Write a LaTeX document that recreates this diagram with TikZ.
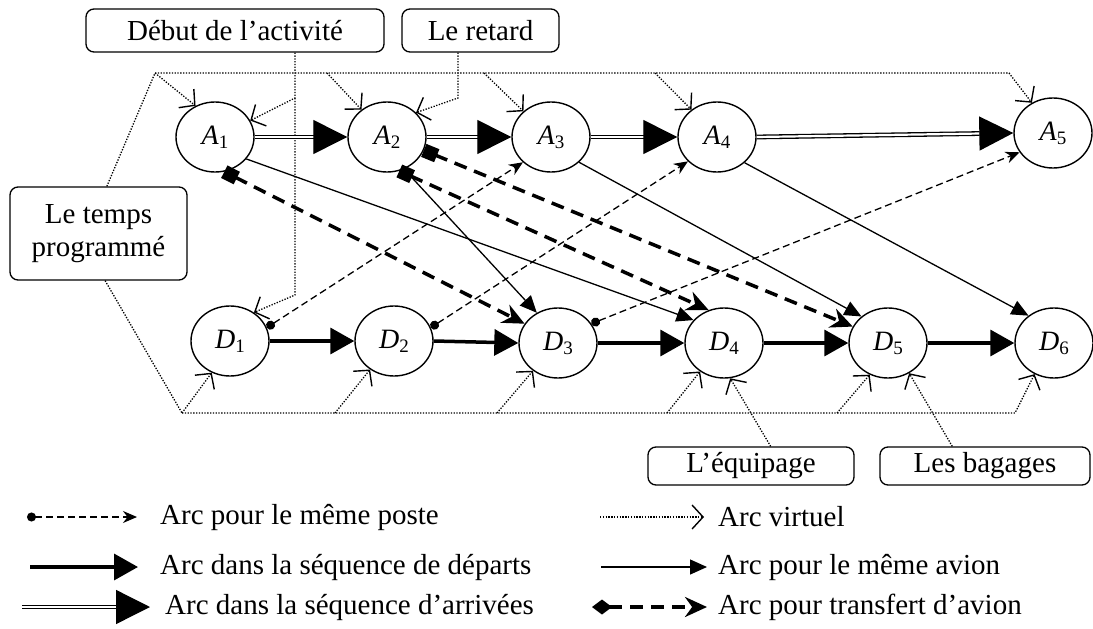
\documentclass[tikz,border=0pt]{standalone}
\usepackage{fontspec}
\setmainfont{Liberation Serif}
\usetikzlibrary{arrows.meta,shapes.geometric}
\newcommand\nlab[2]{\textit{#1}\raisebox{-4pt}{\fontsize{19}{19}\selectfont #2}}
\tikzset{
  ev/.style={ellipse, draw, line width=1.4pt, minimum width=78pt, minimum height=70pt, inner sep=0pt, font=\fontsize{28}{28}\selectfont},
  lab/.style={draw, rounded corners=8pt, line width=1.3pt, inner sep=0pt, font=\fontsize{29}{33}\selectfont, align=center},
  virt/.style={line width=1.3pt, dash pattern=on 1.3pt off 1.5pt},
  vtip/.style={-{Straight Barb[length=11pt,width=24pt,line width=1.4pt]}},
  dep/.style={line width=3.5pt, -{Triangle[length=24pt,width=26pt]}},
  arrv/.style={double, double distance=2.2pt, line width=1.3pt, -{Triangle[length=34pt,width=34pt]}},
  avion/.style={line width=1.3pt, -{Triangle[length=17pt,width=15pt]}},
  poste/.style={line width=1.3pt, dash pattern=on 7pt off 4pt, {Circle[length=9pt]}-{Stealth[length=14pt,width=12pt]}},
  transf/.style={line width=3.5pt, dash pattern=on 13pt off 8pt, {Square[length=14pt,width=14pt]}-{Stealth[length=22pt,width=20pt]}},
  transfleg/.style={line width=3.5pt, dash pattern=on 13pt off 8pt, {Kite[length=20pt,width=15pt,inset=10pt]}-{Stealth[length=22pt,width=20pt]}},
  txt/.style={anchor=west, inner sep=0pt, font=\fontsize{29}{33}\selectfont},
}
\begin{document}
\begin{tikzpicture}[x=1pt,y=-1pt]
\useasboundingbox (0,0) rectangle (1093,629);
% event nodes
\node[ev] (A1) at (215,137) {\nlab{A}{1}};
\node[ev] (A2) at (387,137) {\nlab{A}{2}};
\node[ev] (A3) at (551,137) {\nlab{A}{3}};
\node[ev] (A4) at (717,137) {\nlab{A}{4}};
\node[ev] (A5) at (1053,133) {\nlab{A}{5}};
\node[ev] (D1) at (230,341) {\nlab{D}{1}};
\node[ev] (D2) at (394,341) {\nlab{D}{2}};
\node[ev] (D3) at (558,343) {\nlab{D}{3}};
\node[ev] (D4) at (724,343) {\nlab{D}{4}};
\node[ev] (D5) at (888,343) {\nlab{D}{5}};
\node[ev] (D6) at (1054,343) {\nlab{D}{6}};
% label boxes
\node[lab, minimum width=298pt, minimum height=43pt] (Debut) at (235,30.5) {Début de l’activité};
\node[lab, minimum width=157pt, minimum height=43pt] (Retard) at (480.5,30.5) {Le retard};
\node[lab, minimum width=177pt, minimum height=93pt] (tp) at (98.5,233.5) {Le temps\\programmé};
\node[lab, minimum width=206pt, minimum height=38pt] (Eq) at (751,466) {L’équipage};
\node[lab, minimum width=210pt, minimum height=38pt] (Bag) at (985,466) {Les bagages};
% virtual frame
\coordinate (tl) at (155,73);
\coordinate (t2) at (327,73);
\coordinate (t3) at (484,73);
\coordinate (t4) at (655,73);
\coordinate (t5) at (1009,73);
\coordinate (bl) at (182,413);
\coordinate (b2) at (335,413);
\coordinate (b3) at (497,413);
\coordinate (b4) at (667,413);
\coordinate (b5) at (837,413);
\coordinate (b6) at (1015,413);
\coordinate (dj1) at (295,98);
\coordinate (dj2) at (295,295);
\coordinate (rj) at (458,98);
\draw[virt] (tp.80) -- (tl);
\draw[virt,vtip] (tl) -- (t5) -- (A5.125);
\draw[virt,vtip] (tl) -- (A1.122);
\draw[virt,vtip] (t2) -- (A2.133);
\draw[virt,vtip] (t3) -- (A3.137);
\draw[virt,vtip] (t4) -- (A4.133);
\draw[virt] (tp.-82) -- (bl);
\draw[virt,vtip] (bl) -- (b6) -- (D6.-122);
\draw[virt,vtip] (bl) -- (D1.-120);
\draw[virt,vtip] (b2) -- (D2.-130);
\draw[virt,vtip] (b3) -- (D3.-132);
\draw[virt,vtip] (b4) -- (D4.-130);
\draw[virt,vtip] (b5) -- (D5.-120);
\draw[virt,vtip] (Debut.south -| dj1) -- (dj1) -- (A1.25);
\draw[virt,vtip] (dj1) -- (dj2) -- (D1.50);
\draw[virt,vtip] (Retard.south -| rj) -- (rj) -- (A2.40);
\draw[virt,vtip] (Eq.45) -- (D4.-80);
\draw[virt,vtip] (Bag.149) -- (D5.-55);
% arrival sequence
\draw[arrv] (A1.east) -- (A2.west);
\draw[arrv] (A2.east) -- (A3.west);
\draw[arrv] (A3.east) -- (A4.west);
\draw[arrv] (A4.east) -- (A5.west);
% departure sequence
\draw[dep] (D1.east) -- (D2.west);
\draw[dep] (D2.east) -- (D3.west);
\draw[dep] (D3.east) -- (D4.west);
\draw[dep] (D4.east) -- (D5.west);
\draw[dep] (D5.east) -- (D6.west);
% same aircraft
\draw[avion] (A1.-35) -- (D4.143);
\draw[avion] (A2.-62) -- (D3.125);
\draw[avion] (A3.-42) -- (D5.135);
\draw[avion] (A4.-43) -- (D6.133);
% same gate
\draw[poste] (D1.20) -- (A3.-138);
\draw[poste] (D2.20) -- (A4.-140);
\draw[poste] (D3.30) -- (A5.-150);
% transfer
\draw[transf] (A1.-75) -- (D3.150);
\draw[transf] (A2.-70) -- (D4.115);
\draw[transf] (A2.-20) -- (D5.155);
% legend
\coordinate (l1a) at (27,517);  \coordinate (l1b) at (137,517);
\coordinate (l2a) at (30,567);  \coordinate (l2b) at (138,567);
\coordinate (l3a) at (22,607);  \coordinate (l3b) at (150,607);
\coordinate (r1a) at (600,517); \coordinate (r1b) at (704,517);
\coordinate (r2a) at (601,567); \coordinate (r2b) at (707,567);
\coordinate (r3a) at (592,607); \coordinate (r3b) at (707,607);
\draw[poste] (l1a) -- (l1b);
\draw[dep] (l2a) -- (l2b);
\draw[arrv] (l3a) -- (l3b);
\draw[virt,vtip] (r1a) -- (r1b);
\draw[avion] (r2a) -- (r2b);
\draw[transfleg] (r3a) -- (r3b);
\node[txt] (t1) at (160,517) {Arc pour le même poste};
\node[txt] (t2l) at (160,567) {Arc dans la séquence de départs};
\node[txt] (t3l) at (165,607) {Arc dans la séquence d’arrivées};
\node[txt] (t4l) at (718,517) {Arc virtuel};
\node[txt] (t5l) at (718,567) {Arc pour le même avion};
\node[txt] (t6l) at (718,607) {Arc pour transfert d’avion};
\end{tikzpicture}
\end{document}
